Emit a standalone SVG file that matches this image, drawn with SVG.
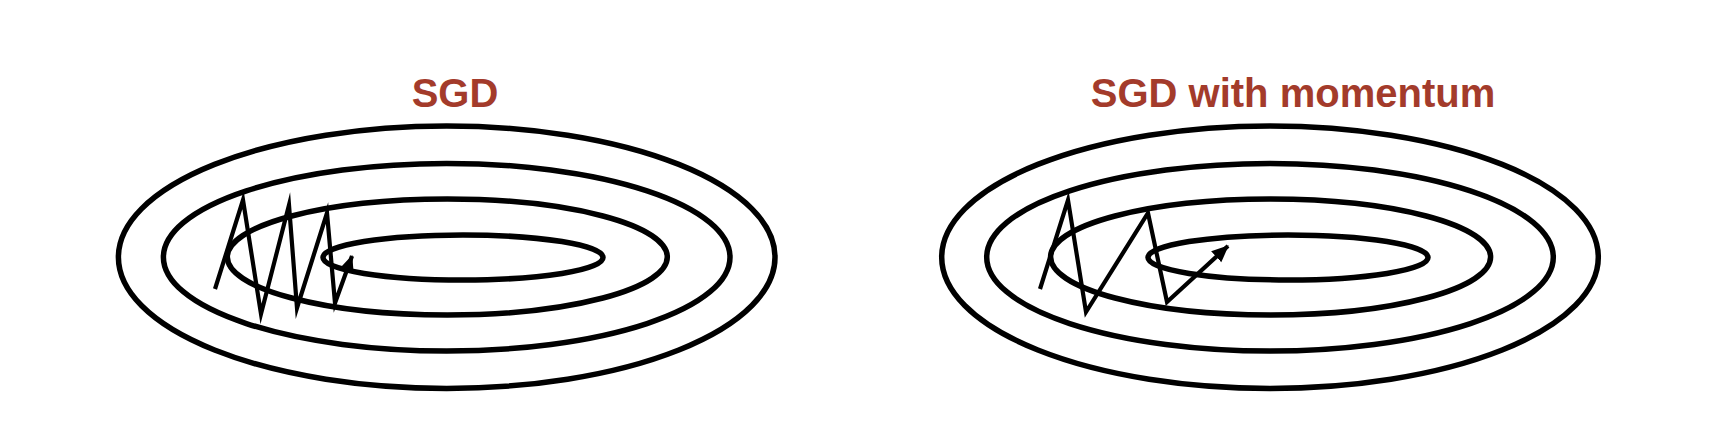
<svg xmlns="http://www.w3.org/2000/svg" width="1716" height="424" viewBox="0 0 1716 424">
  <style>
    .contour { fill: none; stroke: #000; stroke-width: 5.5; }
    .path { fill: none; stroke: #000; stroke-width: 4.2; stroke-linejoin: miter; stroke-miterlimit: 10; }
    .title { font-family: "Liberation Sans", Arial, sans-serif; font-weight: bold; font-size: 40px; fill: #a33b2b; text-anchor: middle; }
  </style>
  <defs>
    <marker id="arrow" markerUnits="userSpaceOnUse" markerWidth="18" markerHeight="16" refX="16" refY="7.5" orient="auto">
      <path d="M0,0 L17,7.5 L0,15 z" fill="#000"/>
    </marker>
  </defs>
  <rect width="1716" height="424" fill="#fff"/>

  <g id="sgd">
    <text class="title" x="455" y="107">SGD</text>
    <ellipse class="contour" cx="446.7" cy="257.2" rx="328.3" ry="131.2"/>
    <ellipse class="contour" cx="446.7" cy="257.2" rx="283.3" ry="93.8"/>
    <ellipse class="contour" cx="447.3" cy="257" rx="220" ry="58"/>
    <ellipse class="contour" cx="463" cy="257.5" rx="140" ry="22.5"/>
  </g>

  <g id="sgd-momentum">
    <text class="title" x="1293" y="107">SGD with momentum</text>
    <ellipse class="contour" cx="1270" cy="257.2" rx="328.3" ry="131.2"/>
    <ellipse class="contour" cx="1270" cy="257.2" rx="283.3" ry="93.8"/>
    <ellipse class="contour" cx="1270.6" cy="257" rx="220" ry="58"/>
    <ellipse class="contour" cx="1288" cy="257.5" rx="140" ry="22.5"/>
  </g>

  <g id="connectors">
    <polyline class="path" points="215,289 243,200 261,314 289,205 297,308 327,213 335,303 352,256" marker-end="url(#arrow)"/>
    <polyline class="path" points="1040,289 1068,200 1086,312 1148,213 1167,302 1228,246" marker-end="url(#arrow)"/>
  </g>
</svg>
